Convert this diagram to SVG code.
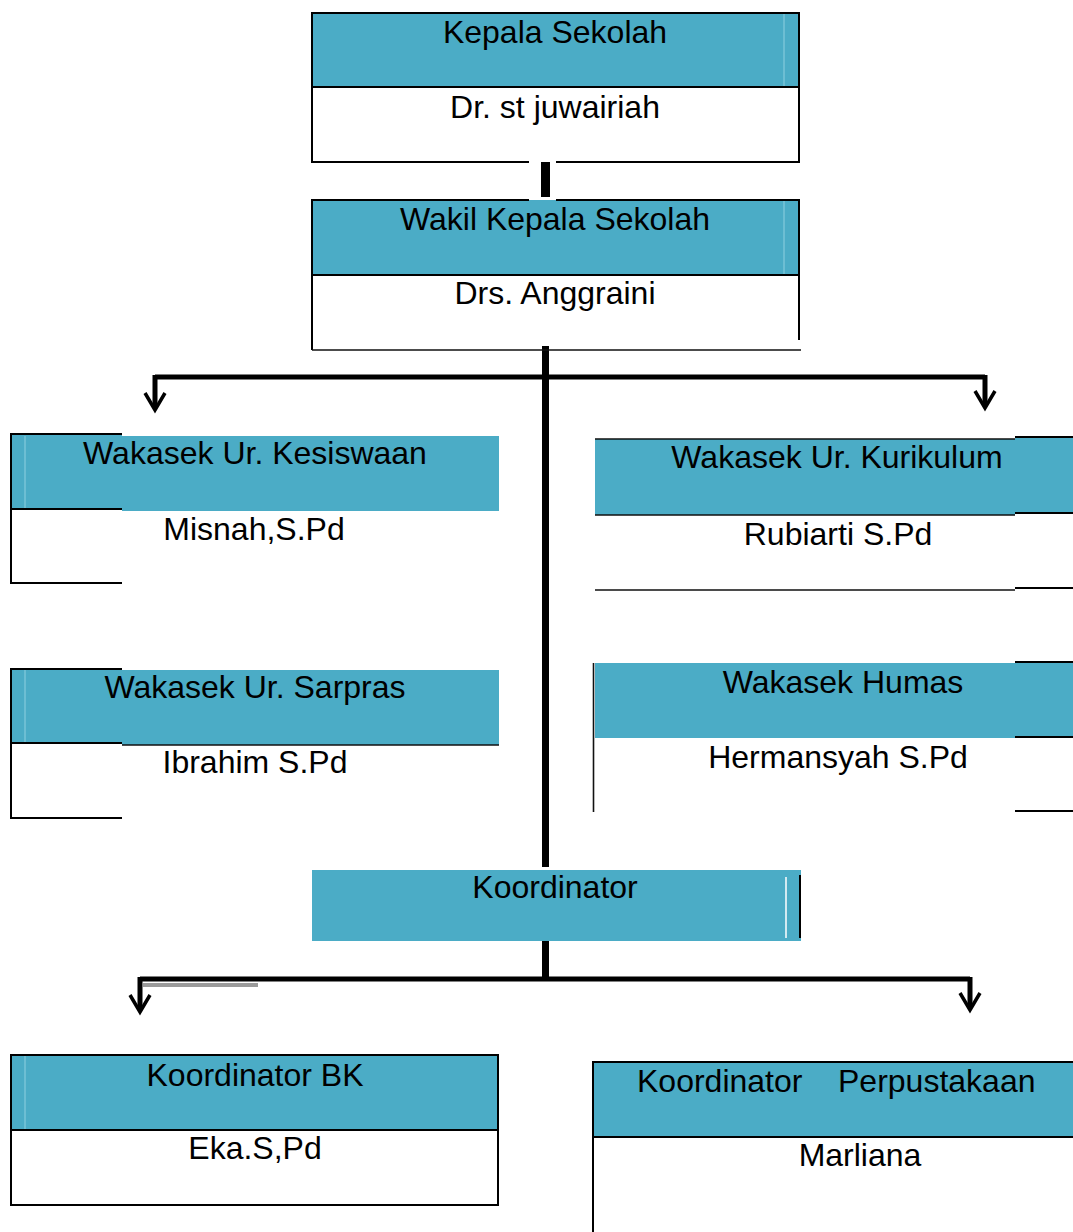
<svg xmlns="http://www.w3.org/2000/svg" width="1073" height="1232" viewBox="0 0 1073 1232">
<style>
text { font-family: "Liberation Sans", Arial, sans-serif; font-size: 32px; fill: #000; text-anchor: middle; }
.hdr { fill: #4BACC6; }
.ln { stroke: #000; stroke-width: 2; fill: none; }
.thin { stroke: #111; stroke-width: 1.6; fill: none; }
.faint { stroke: #8fd0e0; stroke-width: 1; fill: none; }
.trunk { stroke: #000; stroke-width: 7; fill: none; }
.bar { stroke: #000; stroke-width: 5; fill: none; }
.ah { stroke: #000; stroke-width: 3.5; fill: none; stroke-linejoin: miter; }
</style>
<defs>
<path id="arrowhead" class="ah" d="M-10,-17 L0,0 L10,-17 M0,-20 V0"/>
</defs>
<rect width="1073" height="1232" fill="#fff"/>

<g id="connectors">
  <rect x="529" y="158" width="27" height="6" fill="#fff"/>
  <rect x="529" y="196" width="27" height="5" fill="#fff"/>
  <rect x="541" y="162" width="9" height="35" fill="#000"/>
  <line class="trunk" x1="545.5" y1="346" x2="545.5" y2="867"/>
  <path class="bar" d="M155,377 H985"/>
  <path class="bar" d="M155,375 V406"/>
  <path class="bar" d="M985,375 V404"/>
  <use href="#arrowhead" x="155" y="410"/>
  <use href="#arrowhead" x="985" y="408"/>
  <line class="trunk" x1="545.5" y1="941" x2="545.5" y2="981"/>
  <path class="bar" d="M140,979 H970"/>
  <path class="bar" d="M140,977 V1008"/>
  <path class="bar" d="M970,977 V1006"/>
  <rect x="143" y="983" width="115" height="4" fill="#9a9a9a"/>
  <use href="#arrowhead" x="140" y="1012"/>
  <use href="#arrowhead" x="970" y="1010"/>
</g>

<g id="kepala-sekolah">
  <rect class="hdr" x="312" y="13" width="487" height="74"/>
  <line class="faint" x1="784" y1="14" x2="784" y2="86"/>
  <path class="ln" d="M529,162 H312 V13 H799 V162 H556 M312,87 H799"/>
  <text x="555" y="43">Kepala Sekolah</text>
  <text x="555" y="118">Dr. st juwairiah</text>
</g>

<g id="wakil-kepala-sekolah">
  <rect class="hdr" x="312" y="200" width="487" height="75"/>
  <line class="faint" x1="784" y1="201" x2="784" y2="274"/>
  <path class="ln" d="M529,200 H312 V350 M556,200 H799 V340 M312,275 H799"/>
  <path class="thin" d="M312,350 H801"/>
  <text x="555" y="230">Wakil Kepala Sekolah</text>
  <text x="555" y="304">Drs. Anggraini</text>
</g>

<g id="wakasek-kesiswaan">
  <rect class="hdr" x="11" y="435" width="111" height="74"/>
  <rect class="hdr" x="122" y="436" width="377" height="75"/>
  <line class="faint" x1="25" y1="436" x2="25" y2="508"/>
  <path class="ln" d="M122,434 H11 V583 H122 M11,509 H122"/>
  <text x="255" y="464">Wakasek Ur. Kesiswaan</text>
  <text x="254" y="540">Misnah,S.Pd</text>
</g>

<g id="wakasek-sarpras">
  <rect class="hdr" x="11" y="669" width="111" height="74"/>
  <rect class="hdr" x="122" y="670" width="377" height="75"/>
  <line class="faint" x1="25" y1="670" x2="25" y2="742"/>
  <path class="ln" d="M122,669 H11 V818 H122 M11,743 H122"/>
  <path class="thin" d="M122,745 H499"/>
  <text x="255" y="698">Wakasek Ur. Sarpras</text>
  <text x="255" y="773">Ibrahim S.Pd</text>
</g>

<g id="wakasek-kurikulum">
  <rect class="hdr" x="595" y="439" width="420" height="76"/>
  <rect class="hdr" x="1015" y="437" width="58" height="76"/>
  <path class="thin" d="M595,439 H1015 M595,515 H1015 M595,590 H1015"/>
  <path class="ln" d="M1015,437 H1073 M1015,513 H1073 M1015,588 H1073"/>
  <text x="837" y="468">Wakasek Ur. Kurikulum</text>
  <text x="838" y="545">Rubiarti S.Pd</text>
</g>

<g id="wakasek-humas">
  <rect class="hdr" x="595" y="663" width="420" height="75"/>
  <rect class="hdr" x="1015" y="662" width="58" height="75"/>
  <path class="thin" d="M593.5,663 V812"/>
  <path class="ln" d="M1015,662 H1073 M1015,737 H1073 M1015,811 H1073"/>
  <text x="843" y="693">Wakasek Humas</text>
  <text x="838" y="768">Hermansyah S.Pd</text>
</g>

<g id="koordinator">
  <rect class="hdr" x="312" y="870" width="489" height="71"/>
  <line x1="786" y1="877" x2="786" y2="938" stroke="#fff" stroke-width="1.5"/>
  <line x1="800" y1="875" x2="800" y2="938" stroke="#000" stroke-width="2"/>
  <text x="555" y="898">Koordinator</text>
</g>

<g id="koordinator-bk">
  <rect class="hdr" x="11" y="1055" width="487" height="75"/>
  <line class="faint" x1="25" y1="1056" x2="25" y2="1129"/>
  <path class="ln" d="M11,1055 H498 V1205 H11 Z M11,1130 H498"/>
  <text x="255" y="1086">Koordinator BK</text>
  <text x="255" y="1159">Eka.S,Pd</text>
</g>

<g id="koordinator-perpustakaan">
  <rect class="hdr" x="593" y="1062" width="480" height="75"/>
  <path class="ln" d="M1073,1062 H593 V1232 M593,1137 H1073"/>
  <text y="1092" style="text-anchor:start"><tspan x="637">Koordinator</tspan><tspan x="838">Perpustakaan</tspan></text>
  <text x="860" y="1166">Marliana</text>
</g>
</svg>
